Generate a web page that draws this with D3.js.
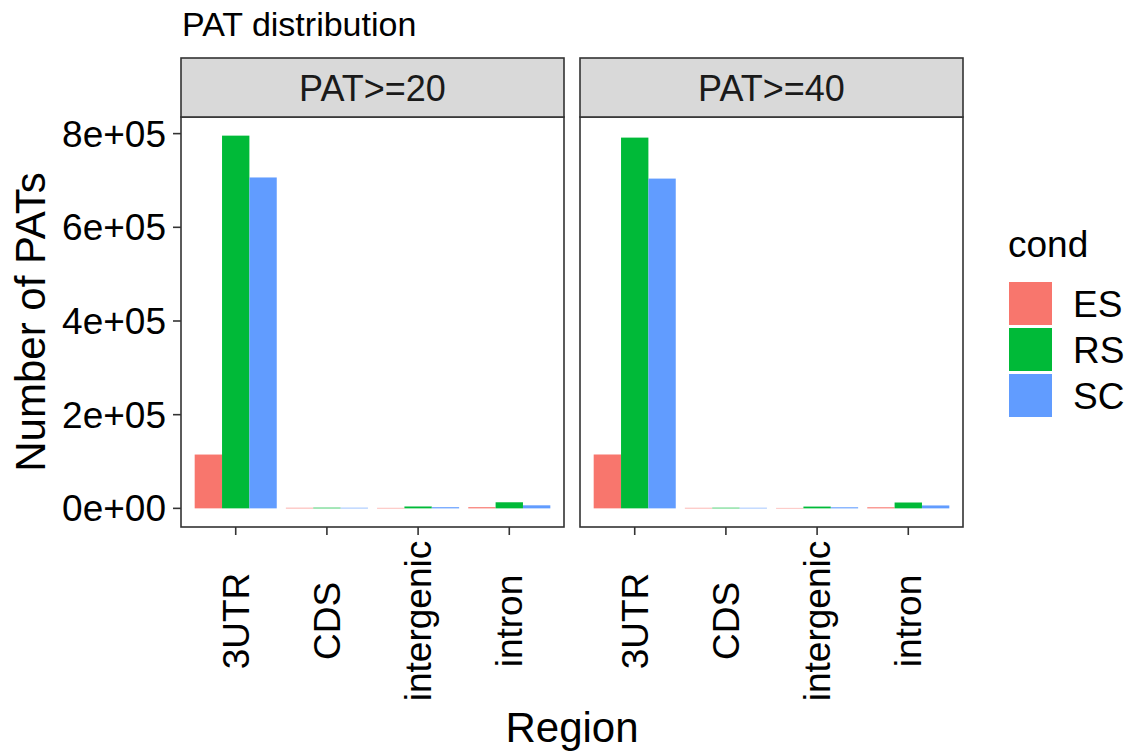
<!DOCTYPE html>
<html>
<head>
<meta charset="utf-8">
<script src="https://cdn.jsdelivr.net/npm/d3@7"></script>
<style>
  body { margin: 0; background: #fff; }
  svg text { font-family: "Liberation Sans", Arial, sans-serif; fill: #000; }
</style>
</head>
<body>
<svg id="chart"></svg>
<script>
// data
const regions = ["3UTR", "CDS", "intergenic", "intron"];
const conds = ["ES", "RS", "SC"];
const facets = ["PAT>=20", "PAT>=40"];

const es20 = [114900, 1200, 1000, 2500];
const rs20 = [795700, 1500, 4000, 13000];
const sc20 = [706400, 1300, 2500, 6500];
const es40 = [115000, 1100, 900, 2300];
const rs40 = [791500, 1400, 3800, 12500];
const sc40 = [704000, 1200, 2300, 6200];

const yTicks = [0, 200000, 400000, 600000, 800000];
const yTickLabels = ["0e+00", "2e+05", "4e+05", "6e+05", "8e+05"];
const colors = ["#F8766D", "#00BA38", "#619CFF"];

const W = 1128, H = 753;
const svg = d3.select("#chart").attr("width", W).attr("height", H);

// panel geometry
const panelLeft = [181, 580];
const panelW = 383;
const stripTop = 58, panelTop = 117, panelBottom = 527;

const series = [[es20, rs20, sc20], [es40, rs40, sc40]];
const maxV = d3.max(series.flat(2));

// ggplot-like 5% expansion
const y = d3.scaleLinear()
    .domain([-0.05 * maxV, 1.05 * maxV])
    .range([panelBottom, panelTop]);

const x = d3.scaleBand()
    .domain(regions)
    .range([0, panelW])
    .paddingInner(0.1)
    .paddingOuter(0.15);

const xc = d3.scaleBand()
    .domain(conds)
    .range([0, x.bandwidth()]);

const color = d3.scaleOrdinal().domain(conds).range(colors);

// title
svg.append("text")
    .attr("x", 182).attr("y", 36)
    .style("font-size", "34px")
    .text("PAT distribution");

facets.forEach((f, p) => {
    const g = svg.append("g").attr("transform", `translate(${panelLeft[p]},0)`);

    g.append("rect")
        .attr("x", 0).attr("y", panelTop)
        .attr("width", panelW).attr("height", panelBottom - panelTop)
        .attr("fill", "#fff");

    // bars
    const rows = [];
    series[p].forEach((vals, ci) => {
        vals.forEach((v, ri) => rows.push({region: regions[ri], cond: conds[ci], value: v}));
    });
    g.selectAll("rect.bar")
        .data(rows)
        .join("rect")
        .attr("class", "bar")
        .attr("x", d => x(d.region) + xc(d.cond))
        .attr("width", xc.bandwidth())
        .attr("y", d => y(d.value))
        .attr("height", d => y(0) - y(d.value))
        .attr("fill", d => color(d.cond));

    // panel border
    g.append("rect")
        .attr("x", 0).attr("y", panelTop)
        .attr("width", panelW).attr("height", panelBottom - panelTop)
        .attr("fill", "none")
        .attr("stroke", "#333").attr("stroke-width", 1.6);

    // strip
    g.append("rect")
        .attr("x", 0).attr("y", stripTop)
        .attr("width", panelW).attr("height", panelTop - stripTop)
        .attr("fill", "#D9D9D9")
        .attr("stroke", "#333").attr("stroke-width", 1.6);
    g.append("text")
        .attr("x", panelW / 2).attr("y", 101)
        .attr("text-anchor", "middle")
        .style("font-size", "36px")
        .style("fill", "#1A1A1A")
        .text(f);

    // x axis ticks + labels
    const xt = g.append("g");
    xt.selectAll("line")
        .data(regions)
        .join("line")
        .attr("x1", d => x(d) + x.bandwidth() / 2)
        .attr("x2", d => x(d) + x.bandwidth() / 2)
        .attr("y1", panelBottom).attr("y2", panelBottom + 8)
        .attr("stroke", "#333").attr("stroke-width", 1.6);
    xt.selectAll("text")
        .data(regions)
        .join("text")
        .attr("transform", d => `translate(${x(d) + x.bandwidth() / 2 + 13},621) rotate(-90)`)
        .attr("text-anchor", "middle")
        .style("font-size", "37px")
        .text(d => d);
});

// y axis on the first panel
const ya = svg.append("g");
ya.selectAll("line")
    .data(yTicks)
    .join("line")
    .attr("x1", panelLeft[0] - 8).attr("x2", panelLeft[0])
    .attr("y1", d => y(d)).attr("y2", d => y(d))
    .attr("stroke", "#333").attr("stroke-width", 1.6);
ya.selectAll("text")
    .data(yTicks)
    .join("text")
    .attr("x", 166)
    .attr("y", d => y(d) + 13)
    .attr("text-anchor", "end")
    .style("font-size", "37px")
    .text((d, i) => yTickLabels[i]);

// axis titles
svg.append("text")
    .attr("transform", `translate(45,${(panelTop + panelBottom) / 2}) rotate(-90)`)
    .attr("text-anchor", "middle")
    .style("font-size", "42px")
    .text("Number of PATs");

svg.append("text")
    .attr("x", (panelLeft[0] + panelLeft[1] + panelW) / 2)
    .attr("y", 742)
    .attr("text-anchor", "middle")
    .style("font-size", "42px")
    .text("Region");

// legend
const lg = svg.append("g").attr("transform", "translate(1008,0)");
lg.append("text")
    .attr("x", 0).attr("y", 257)
    .style("font-size", "37px")
    .text("cond");
const keys = lg.selectAll("g.key")
    .data(conds)
    .join("g")
    .attr("class", "key")
    .attr("transform", (d, i) => `translate(0,${282 + i * 46})`);
keys.append("rect")
    .attr("x", 1).attr("y", 0)
    .attr("width", 43).attr("height", 43)
    .attr("fill", d => color(d));
keys.append("text")
    .attr("x", 65).attr("y", 34.5)
    .style("font-size", "37px")
    .text(d => d);
</script>
</body>
</html>
